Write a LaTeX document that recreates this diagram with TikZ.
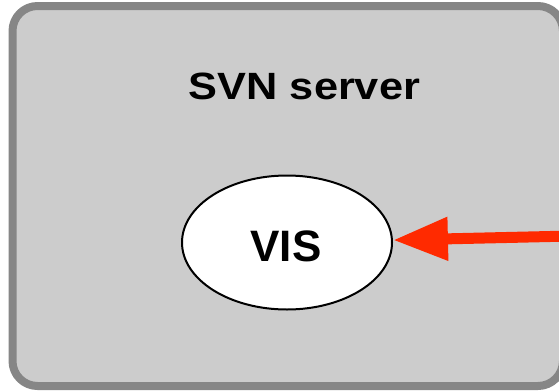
\documentclass[tikz,border=0pt]{standalone}
\usepackage{fontspec}
\setmainfont{Liberation Sans}
\usetikzlibrary{shapes.geometric,arrows.meta}
\definecolor{boxgray}{HTML}{CCCCCC}
\definecolor{edgegray}{HTML}{868686}
\definecolor{arrowred}{HTML}{FF2A00}
\tikzset{
  server/.style={draw=edgegray, fill=boxgray, line width=8pt, rounded corners=25pt},
  app/.style={ellipse, draw=black, fill=white, line width=2pt, inner sep=0pt,
    minimum width=210pt, minimum height=134pt},
  link/.style={draw=arrowred, line width=11pt, -{Triangle[length=55pt,width=41pt]}}
}
\begin{document}
\begin{tikzpicture}[x=1pt, y=-1pt, line join=round]
  \useasboundingbox (0,0) rectangle (559,391);
  \path (12.5,6) coordinate (tl)
        (563,386) coordinate (br)
        (572,236) coordinate (src);
  % server box
  \draw[server] (tl) rectangle (br);
  \node[anchor=base, font=\bfseries\fontsize{38}{40}\selectfont, xscale=1.14] (title) at (304.5,99) {SVN server};
  % repository node
  \node[app] (vis) at (287,242.5) {};
  \node[anchor=base, font=\bfseries\fontsize{44}{48}\selectfont] (vislabel) at (286,261) {VIS};
  \draw[link] (src) -- (vis);
\end{tikzpicture}
\end{document}
